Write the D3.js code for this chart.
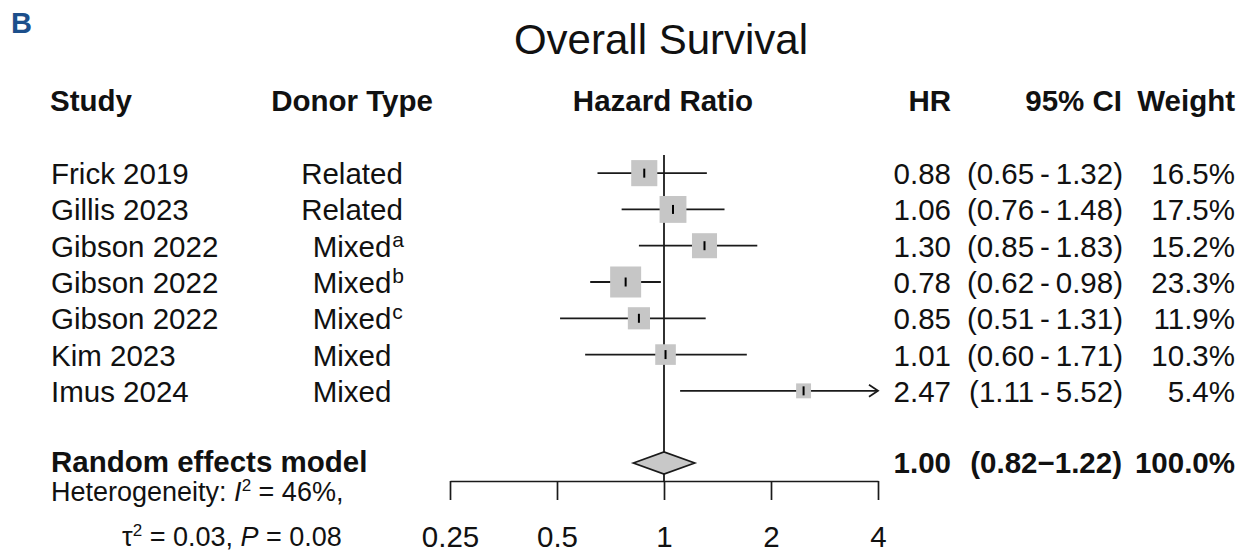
<!DOCTYPE html>
<html>
<head>
<meta charset="utf-8">
<script src="https://cdn.jsdelivr.net/npm/d3@7"></script>
<style>
  body { margin: 0; background: #fff; }
  svg { display: block; font-family: "Liberation Sans", Arial, sans-serif; }
</style>
</head>
<body>
<svg id="chart" width="1242" height="553"></svg>
<script>
// study rows
const studies = ['Frick 2019', 'Gillis 2023', 'Gibson 2022', 'Gibson 2022', 'Gibson 2022', 'Kim 2023', 'Imus 2024'];
const donorTypes = ['Related', 'Related', 'Mixed', 'Mixed', 'Mixed', 'Mixed', 'Mixed'];
const donorSup = ['', '', 'a', 'b', 'c', '', ''];
const hr = [0.88, 1.06, 1.30, 0.78, 0.85, 1.01, 2.47];
const lower = [0.65, 0.76, 0.85, 0.62, 0.51, 0.60, 1.11];
const upper = [1.32, 1.48, 1.83, 0.98, 1.31, 1.71, 5.52];
const weights = [16.5, 17.5, 15.2, 23.3, 11.9, 10.3, 5.4];

// random effects summary
const pooled = { hr: 1.00, lower: 0.82, upper: 1.22, weight: 100.0 };

const axisTicks = [0.25, 0.5, 1, 2, 4];

const svg = d3.select('#chart');
const ink = '#1a1a1a';
const fs = 29.5;

const x = d3.scaleLog().base(2).domain([0.25, 4]).range([450, 878]);
const y = d3.scaleBand().domain(d3.range(studies.length)).range([155, 409]);
const boxSize = d3.scaleSqrt().domain([0, d3.max(weights)]).range([0, 31]);
const rowY = i => y(i) + y.bandwidth() / 2;

// panel letter + title
svg.append('text').attr('x', 11).attr('y', 33)
  .attr('font-size', 29).attr('font-weight', 'bold').attr('fill', '#1c4f8b').text('B');
svg.append('text').attr('x', 661).attr('y', 54).attr('text-anchor', 'middle')
  .attr('font-size', 42).attr('fill', '#111').text('Overall Survival');

// column headers
const headers = [
  { t: 'Study', x: 50, a: 'start' },
  { t: 'Donor Type', x: 352, a: 'middle' },
  { t: 'Hazard Ratio', x: 663, a: 'middle' },
  { t: 'HR', x: 951, a: 'end' },
  { t: '95% CI', x: 1122, a: 'end' },
  { t: 'Weight', x: 1235, a: 'end' }
];
svg.selectAll('.hdr').data(headers).enter().append('text')
  .attr('x', d => d.x).attr('y', 111).attr('text-anchor', d => d.a)
  .attr('font-size', fs).attr('font-weight', 'bold').attr('fill', '#111')
  .text(d => d.t);

// reference line at HR = 1
svg.append('line').attr('x1', x(1)).attr('x2', x(1)).attr('y1', 155).attr('y2', 481)
  .attr('stroke', ink).attr('stroke-width', 1.8);

const rows = svg.selectAll('.row').data(studies.map((s, i) => i)).enter()
  .append('g').attr('class', 'row');

// CI lines (clipped at axis limit with an arrow)
rows.append('line')
  .attr('x1', i => x(Math.max(lower[i], 0.25)))
  .attr('x2', i => x(Math.min(upper[i], 4)))
  .attr('y1', rowY).attr('y2', rowY)
  .attr('stroke', ink).attr('stroke-width', 1.8);

rows.filter(i => upper[i] > 4).append('path')
  .attr('d', i => {
    const ex = x(4), ey = rowY(i);
    return `M${ex - 9},${ey - 6}L${ex},${ey}L${ex - 9},${ey + 6}`;
  })
  .attr('fill', 'none').attr('stroke', ink).attr('stroke-width', 1.8);

// weight boxes
rows.append('rect')
  .attr('x', i => x(hr[i]) - boxSize(weights[i]) / 2)
  .attr('y', i => rowY(i) - boxSize(weights[i]) / 2)
  .attr('width', i => boxSize(weights[i]))
  .attr('height', i => boxSize(weights[i]))
  .attr('fill', '#c6c6c6');

rows.append('line')
  .attr('x1', i => x(hr[i])).attr('x2', i => x(hr[i]))
  .attr('y1', i => rowY(i) - 4.5).attr('y2', i => rowY(i) + 4.5)
  .attr('stroke', '#000').attr('stroke-width', 2);

// left text columns
rows.append('text').attr('x', 51).attr('y', i => rowY(i) + 11)
  .attr('font-size', fs).attr('fill', '#111').text(i => studies[i]);

rows.append('text').attr('class', 'donor').attr('x', 352).attr('y', i => rowY(i) + 11)
  .attr('text-anchor', 'middle').attr('font-size', fs).attr('fill', '#111')
  .text(i => donorTypes[i]);

rows.filter(i => donorSup[i]).each(function (i) {
  const w = d3.select(this).select('.donor').node().getComputedTextLength();
  d3.select(this).append('text').attr('x', 352 + w / 2 + 1).attr('y', rowY(i) + 1)
    .attr('font-size', 21).attr('fill', '#111').text(donorSup[i]);
});

// right text columns
const f2 = d3.format('.2f');
rows.append('text').attr('x', 951).attr('y', i => rowY(i) + 11).attr('text-anchor', 'end')
  .attr('font-size', fs).attr('fill', '#111').text(i => f2(hr[i]));
rows.append('text').attr('x', 1123).attr('y', i => rowY(i) + 11).attr('text-anchor', 'end')
  .attr('font-size', fs).attr('fill', '#111')
  .text(i => `(${f2(lower[i])}\u2009-\u2009${f2(upper[i])})`);
rows.append('text').attr('x', 1235).attr('y', i => rowY(i) + 11).attr('text-anchor', 'end')
  .attr('font-size', fs).attr('fill', '#111').text(i => weights[i].toFixed(1) + '%');

// summary diamond
const dy = 463;
svg.append('path')
  .attr('d', `M${x(pooled.lower)},${dy}L${x(pooled.hr)},${dy - 11}L${x(pooled.upper)},${dy}L${x(pooled.hr)},${dy + 11}Z`)
  .attr('fill', '#c8c8c8').attr('stroke', ink).attr('stroke-width', 1.7);

svg.append('text').attr('x', 51).attr('y', 472).attr('font-size', fs)
  .attr('font-weight', 'bold').attr('fill', '#111').text('Random effects model');
svg.append('text').attr('x', 951).attr('y', 473).attr('text-anchor', 'end').attr('font-size', fs)
  .attr('font-weight', 'bold').attr('fill', '#111').text(f2(pooled.hr));
svg.append('text').attr('x', 1122).attr('y', 473).attr('text-anchor', 'end').attr('font-size', fs)
  .attr('font-weight', 'bold').attr('fill', '#111')
  .text(`(${f2(pooled.lower)}\u2212${f2(pooled.upper)})`);
svg.append('text').attr('x', 1235).attr('y', 473).attr('text-anchor', 'end').attr('font-size', fs)
  .attr('font-weight', 'bold').attr('fill', '#111').text(pooled.weight.toFixed(1) + '%');

// heterogeneity
const hs = 27, hsup = 17;
const het1 = svg.append('text').attr('x', 51).attr('y', 501).attr('font-size', hs).attr('fill', '#111');
het1.append('tspan').text('Heterogeneity: ');
het1.append('tspan').attr('font-style', 'italic').text('I');
het1.append('tspan').attr('dy', -10).attr('font-size', hsup).text('2');
het1.append('tspan').attr('dy', 10).text(' = 46%,');

const het2 = svg.append('text').attr('x', 122).attr('y', 546).attr('font-size', hs).attr('fill', '#111');
het2.append('tspan').text('\u03c4');
het2.append('tspan').attr('dy', -10).attr('font-size', hsup).text('2');
het2.append('tspan').attr('dy', 10).text(' = 0.03, ');
het2.append('tspan').attr('font-style', 'italic').text('P');
het2.append('tspan').text(' = 0.08');

// bottom axis
const axis = svg.append('g').attr('transform', 'translate(0,481)')
  .call(d3.axisBottom(x).tickValues(axisTicks).tickFormat(d3.format('')).tickSize(19).tickSizeOuter(0).tickPadding(26));
axis.select('.domain').attr('stroke', ink).attr('stroke-width', 1.7);
axis.selectAll('.tick line').attr('stroke', ink).attr('stroke-width', 1.7);
axis.selectAll('.tick text').attr('font-size', fs).attr('fill', '#111')
  .attr('font-family', '"Liberation Sans", Arial, sans-serif');
</script>
</body>
</html>
